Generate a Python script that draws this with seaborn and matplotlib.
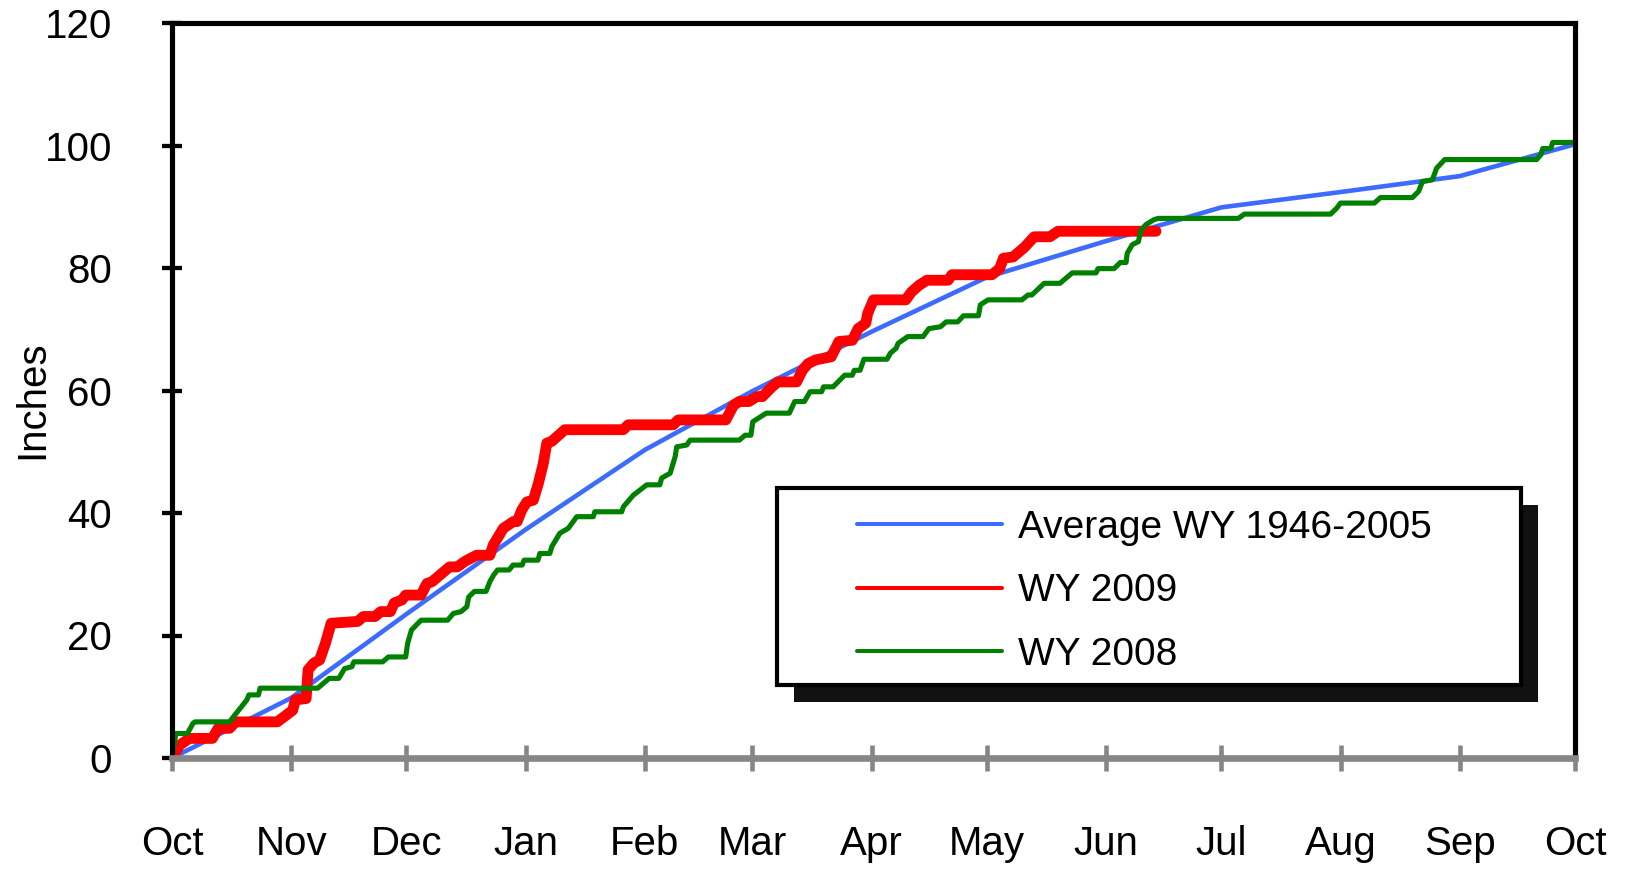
import numpy as np
import pandas as pd
import matplotlib
matplotlib.use("Agg")
import matplotlib.pyplot as plt
from matplotlib.patches import Rectangle
import seaborn as sns

# month labels along the water year (Oct -> Oct)
month_labels = ["Oct", "Nov", "Dec", "Jan", "Feb", "Mar", "Apr", "May",
                "Jun", "Jul", "Aug", "Sep", "Oct"]
month_starts = pd.date_range("2008-10-01", "2009-10-01", freq="MS")
month_days = (month_starts - month_starts[0]).days.to_numpy()

# average cumulative precipitation WY 1946-2005 (inches at start of each month)
avg_vals = [0, 9.8, 23.5, 37.3, 50.3, 59.9, 69.6, 78.5, 84.4, 89.9, 92.4, 95.0, 100.2]

# WY 2009 cumulative (day of water year, inches)
wy2009_days = [0, 2.0, 4.5, 10.5, 12.0, 15.0, 16.5, 27.4, 31.4, 32.1, 34.9, 35.4,
               36.9, 38.4, 39.9, 41.4, 48.3, 49.8, 52.8, 54.3, 56.8, 57.8, 59.8,
               60.8, 64.8, 66.3, 67.7, 72.2, 74.2, 76.2, 79.2, 82.7, 83.6, 86.2,
               88.8, 89.8, 91.0, 92.3, 94.0, 95.3, 96.6, 97.5, 98.8, 102.2, 117.4,
               118.7, 130.4, 131.7, 144.1, 146.1, 147.6, 150.1, 152.1, 153.6,
               156.1, 157.6, 162.5, 164.0, 165.5, 167.5, 171.5, 173.5, 177.0,
               178.5, 180.5, 181.0, 182.5, 190.9, 192.4, 194.4, 196.4, 201.9,
               202.9, 213.3, 215.3, 216.3, 218.8, 221.8, 224.3, 228.4, 230.5, 256.0]
wy2009_vals = [0, 2.1, 3.2, 3.2, 4.85, 4.85, 5.9, 5.9, 7.8, 9.5, 9.7, 14.4,
               15.5, 16.0, 18.7, 22.0, 22.3, 23.1, 23.1, 23.9, 23.9, 25.3, 25.8,
               26.6, 26.6, 28.5, 28.8, 31.2, 31.2, 32.1, 33.1, 33.1, 34.8, 37.5,
               38.6, 38.6, 40.5, 41.8, 42.1, 44.8, 48.1, 51.4, 51.7, 53.6, 53.6,
               54.4, 54.4, 55.2, 55.2, 57.6, 58.2, 58.2, 59.0, 59.0,
               60.6, 61.4, 61.4, 63.3, 64.4, 65.0, 65.5, 68.0, 68.2,
               70.1, 71.0, 72.6, 74.8, 74.8, 76.1, 77.2, 78.0, 78.0,
               78.9, 78.9, 79.9, 81.6, 81.8, 83.4, 85.1, 85.1, 86.0, 86.0]

# WY 2008 cumulative (day of water year, inches)
wy2008_days = [0, 1.0, 4.0, 5.5, 6.0, 15.0, 16.0, 19.5, 20.0, 22.5, 22.9, 37.9,
               40.9, 43.4, 44.9, 46.8, 47.3, 54.8, 56.3, 60.8, 61.3, 62.3, 64.8,
               71.7, 73.2, 75.2, 76.7, 77.2, 78.7, 81.7, 82.7, 83.7, 84.7, 87.7,
               88.7, 91.1, 91.6, 95.2, 95.7, 98.3, 98.8, 100.9, 103.1, 105.3,
               109.6, 110.0, 117.0, 117.4, 120.0, 123.5, 126.9, 127.4, 129.6,
               130.9, 131.3, 133.9, 134.8, 147.6, 149.1, 150.6, 151.1, 152.6,
               154.6, 160.6, 162.0, 164.5, 166.0, 169.0, 169.5, 172.0, 175.0,
               177.0, 177.5, 179.0, 180.0, 186.0, 186.9, 188.4, 188.9, 191.4,
               195.4, 196.9, 199.9, 201.4, 204.4, 205.9, 209.8, 210.3, 212.3,
               221.1, 222.7, 223.7, 226.9, 231.0, 234.2, 240.4, 240.9, 245.1,
               246.7, 248.2, 248.5, 249.8, 251.4, 252.1, 253.4, 255.5, 256.6,
               277.4, 279.0, 301.4, 302.9, 304.0, 312.8, 314.4, 322.7, 324.3,
               325.3, 327.9, 329.0, 331.1, 355.0, 356.1, 356.6, 358.7, 359.2, 365.0]
wy2008_vals = [0, 4.0, 4.0, 5.7, 5.9, 5.9, 6.75, 9.5, 10.3, 10.3, 11.4, 11.4,
               13.0, 13.0, 14.6, 14.9, 15.7, 15.7, 16.5, 16.5, 18.7, 20.9, 22.5,
               22.5, 23.6, 23.9, 24.7, 26.3, 27.2, 27.2, 28.8, 29.9, 30.7, 30.7,
               31.5, 31.5, 32.3, 32.3, 33.4, 33.4, 34.5, 36.7, 37.5, 39.4,
               39.4, 40.2, 40.2, 41.0, 42.9, 44.6, 44.6, 45.7, 46.5,
               49.2, 50.8, 51.1, 51.9, 51.9, 52.7, 52.7, 54.9, 55.5,
               56.3, 56.3, 58.2, 58.2, 59.8, 59.8, 60.6, 60.6, 62.5,
               62.5, 63.3, 63.3, 65.1, 65.1, 66.1, 66.9, 67.7, 68.8,
               68.8, 70.1, 70.4, 71.2, 71.2, 72.2, 72.2, 74.0, 74.8,
               74.8, 75.6, 75.6, 77.5, 77.5, 79.2, 79.2, 79.9, 79.9,
               80.9, 80.9, 82.4, 83.8, 84.3, 86.2, 87.1, 87.9, 88.1,
               88.1, 88.8, 88.8, 89.7, 90.6, 90.6, 91.5, 91.5, 92.5,
               94.1, 94.4, 96.3, 97.7, 97.7, 98.5, 99.5, 99.5, 100.5, 100.5]

blue = "#3D6BFF"
red = "#FF0000"
green = "#008000"
axis_gray = "#868686"

sns.set_style("white")
plt.rcParams["font.family"] = ["Liberation Sans", "DejaVu Sans"]
plt.rcParams["text.color"] = "black"
plt.rcParams["axes.labelcolor"] = "black"
plt.rcParams["xtick.color"] = "black"
plt.rcParams["ytick.color"] = "black"

fig = plt.figure(figsize=(16.28, 8.69), dpi=100)
ax = fig.add_axes([172 / 1628, 1 - 758 / 869, 1403 / 1628, 735 / 869])

sns.lineplot(x=month_days, y=avg_vals, color=blue, linewidth=3.3,
             estimator=None, sort=False, label="Average WY 1946-2005", ax=ax)
sns.lineplot(x=wy2009_days, y=wy2009_vals, color=red, linewidth=7.8,
             estimator=None, sort=False, label="WY 2009", ax=ax,
             solid_capstyle="round", solid_joinstyle="round")
sns.lineplot(x=wy2008_days, y=wy2008_vals, color=green, linewidth=3.7,
             estimator=None, sort=False, label="WY 2008", ax=ax,
             solid_joinstyle="round")

ax.set_xlim(0, 365)
ax.set_ylim(0, 120)
ax.set_xticks(month_days)
ax.set_xticklabels(month_labels)
ax.set_yticks(np.arange(0, 121, 20))
ax.set_xlabel("")
ax.set_ylabel("Inches", fontsize=29, color="black")
ax.yaxis.set_label_coords(-0.086, 0.488)

for side in ["left", "top", "right"]:
    ax.spines[side].set_color("black")
    ax.spines[side].set_linewidth(3.7)
ax.spines["bottom"].set_color(axis_gray)
ax.spines["bottom"].set_linewidth(4.8)
ax.spines["bottom"].set_zorder(3)

ax.tick_params(axis="y", left=True, direction="inout", length=15, width=3.1,
               color="black", labelcolor="black", labelsize=29, pad=35.5)
ax.tick_params(axis="x", bottom=True, direction="inout", length=19, width=3.3,
               color=axis_gray, labelcolor="black", labelsize=29, pad=39)

# legend box with a hard drop shadow
bx0, bx1 = 0.4315, 0.9615
by0, by1 = 0.0993, 0.3669
ax.add_patch(Rectangle((bx0 + 0.0121, by0 - 0.0231), bx1 - bx0, by1 - by0,
                       transform=ax.transAxes, facecolor="#111111",
                       edgecolor="none", zorder=4, clip_on=False))
ax.add_patch(Rectangle((bx0, by0), bx1 - bx0, by1 - by0,
                       transform=ax.transAxes, facecolor="white",
                       edgecolor="black", linewidth=3, zorder=4.5, clip_on=False))

leg = ax.legend(loc="center left", bbox_to_anchor=(0.4882, 0.227),
                frameon=False, fontsize=28, handlelength=3.73,
                handletextpad=0.40, labelspacing=0.71, borderpad=0,
                borderaxespad=0)
leg.set_zorder(5)
for text in leg.get_texts():
    text.set_color("black")
for line in leg.get_lines():
    line.set_linewidth(2.9)
    line.set_solid_capstyle("round")

fig.savefig("out.png", dpi=100)
